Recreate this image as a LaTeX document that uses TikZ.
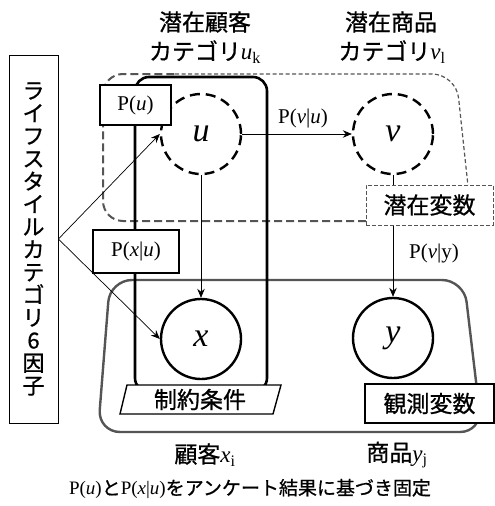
\documentclass[tikz,border=0pt]{standalone}
\usepackage{fontspec}
\setmainfont{Liberation Serif}
\newfontfamily\jpfont{Noto Sans CJK JP}[FakeBold=0.8]
\newcommand{\J}[1]{{\jpfont #1}}
\usetikzlibrary{arrows.meta,backgrounds}
\definecolor{rg}{HTML}{555555}
\begin{document}
\begin{tikzpicture}[x=1pt,y=-1pt,
  arr/.style={-{Stealth[length=9pt,width=7.5pt,inset=3pt]}, line width=0.7pt},
  jpl/.style={font=\rmfamily\fontsize{23}{26}\selectfont, inner sep=0pt},
  prob/.style={draw, line width=2.2pt, fill=white, font=\rmfamily\fontsize{21}{24}\selectfont, inner sep=0pt},
  latc/.style={circle, draw, dash pattern=on 10pt off 6pt, line width=2.4pt, minimum size=80pt, fill=white, inner sep=0pt, font=\rmfamily\fontsize{34}{36}\selectfont\itshape},
  obsc/.style={circle, draw, line width=2.4pt, minimum size=80pt, fill=white, inner sep=0pt, font=\rmfamily\fontsize{34}{36}\selectfont\itshape},
  lbl/.style={font=\rmfamily\fontsize{21}{24}\selectfont, inner sep=0pt}
]
\useasboundingbox (0,0) rectangle (495,506);

% life-style box
\node[draw, line width=0.8pt, minimum width=49pt, minimum height=368pt, inner sep=0pt, align=center,
      font=\jpfont\fontsize{22}{22.7}\selectfont] (life) at (33.5,239)
  {ラ\\イ\\フ\\ス\\タ\\イ\\ル\\カ\\テ\\ゴ\\リ\\6\\因\\子};

% circles
\node[latc] (u) at (201,134) {u};
\node[latc] (v) at (393,134) {v};
\node[obsc] (x) at (201,339) {x};
\node[obsc] (y) at (393,338) {y};

% boxes
\node[prob, minimum width=71pt, minimum height=40pt] (pu) at (135.5,105) {P(\textit{u})};
\node[prob, minimum width=86pt, minimum height=43pt] (pxu) at (136,251.5) {P(\textit{x}|\textit{u})};
\node[draw=rg, dash pattern=on 4pt off 2pt, line width=1pt, fill=white, minimum width=127pt, minimum height=40pt, inner sep=0pt,
      font=\jpfont\fontsize{23}{26}\selectfont] (latbox) at (429.5,205) {潜在変数};
\node[draw, line width=2.4pt, fill=white, minimum width=129pt, minimum height=39pt, inner sep=0pt,
      font=\jpfont\fontsize{23}{26}\selectfont] (obsbox) at (429.5,403.5) {観測変数};
\node[jpl] (cons) at (200,399.5) {\J{制約条件}};

% background regions
\begin{pgfonlayer}{background}
  \draw[rg, line width=2pt, dash pattern=on 8pt off 4pt, rounded corners=20] (366,221) -- (103,221) -- (103,74) -- (175,74);
  \draw[rg, line width=1.2pt, dash pattern=on 4pt off 2.5pt, rounded corners=24] (175,74) -- (456,74) -- (468,186);
  \draw[rg, line width=2.4pt, rounded corners=22] (110,280) -- (464,280) -- (482,432) -- (98,432) -- cycle;
  \draw[line width=2.6pt, rounded corners=14] (135,77) rectangle (267,392);
  \draw[line width=1.4pt, fill=white] (127,385) -- (281,385) -- (273,414) -- (120,414) -- cycle;
\end{pgfonlayer}

% connectors
\draw[arr] (life.east) -- (u.west);
\draw[arr] (life.east) -- (x.west);
\draw[arr] (u) -- (v);
\draw[arr] (u) -- (x);
\draw[line width=0.7pt] (v) -- (latbox.north -| v);
\draw[arr] (latbox.south -| y) -- (y);

% labels
\node[lbl] (lvu) at (303,118) {P(\textit{v}|\textit{u})};
\node[lbl] (lvy) at (434,253) {P(\textit{v}|y)};

\node[jpl] (t1) at (205,22) {\J{潜在顧客}};
\node[jpl] (t2) at (205,52) {\J{カテゴリ}\textit{u}\textsubscript{k}};
\node[jpl] (t3) at (391,22) {\J{潜在商品}};
\node[jpl] (t4) at (392,52) {\J{カテゴリ}\textit{v}\textsubscript{l}};
\node[jpl] (b1) at (205,455) {\J{顧客}\textit{x}\textsubscript{i}};
\node[jpl] (b2) at (397,455) {\J{商品}\textit{y}\textsubscript{j}};
\node[font=\rmfamily\fontsize{19}{22}\selectfont, inner sep=0pt] (cap) at (250,489)
  {P(\textit{u})\J{と}P(\textit{x}|\textit{u})\J{をアンケート結果に基づき固定}};
\end{tikzpicture}
\end{document}
